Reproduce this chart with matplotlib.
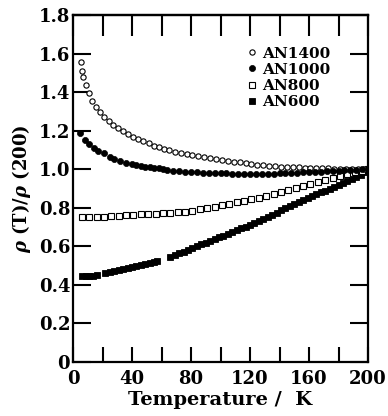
import matplotlib.pyplot as plt
from matplotlib.ticker import FixedLocator

# temperature (K) and normalised resistivity rho(T)/rho(200)
t_an1400 = [5.4, 6.3, 7.0, 8.6, 10.8, 12.9, 15.4, 18.3, 21.2, 24.2,
            27.3, 30.7, 34.1, 37.5, 40.9, 44.3, 47.7, 51.5, 55.1, 58.5,
            61.9, 65.3, 69.2, 73, 77, 81, 85, 89, 93, 97,
            101, 105, 109, 113, 117, 121, 125, 129, 133, 137,
            141, 145, 149, 153, 157, 161, 165, 169, 173, 177,
            181, 185, 189, 193, 197, 200]
r_an1400 = [1.554, 1.511, 1.477, 1.437, 1.394, 1.355, 1.324, 1.298, 1.272, 1.250,
            1.229, 1.212, 1.198, 1.183, 1.169, 1.157, 1.146, 1.134, 1.122, 1.114,
            1.105, 1.098, 1.091, 1.086, 1.080, 1.074, 1.069, 1.064, 1.059, 1.054,
            1.049, 1.044, 1.039, 1.035, 1.031, 1.027, 1.024, 1.021, 1.018, 1.016,
            1.014, 1.012, 1.010, 1.009, 1.008, 1.007, 1.006, 1.005, 1.004, 1.003,
            1.002, 1.002, 1.001, 1.001, 1.000, 1.000]

t_an1000 = [5, 8, 11, 14, 17, 21, 25, 28, 32, 36,
            40, 43, 46, 49, 52, 55, 58, 61, 64, 68,
            72, 76, 80, 84, 88, 92, 96, 100, 104, 108,
            112, 116, 120, 124, 128, 132, 136, 140, 144, 148,
            152, 156, 160, 164, 168, 172, 176, 180, 184, 188,
            192, 196, 200]
r_an1000 = [1.190, 1.151, 1.129, 1.108, 1.094, 1.082, 1.065, 1.053, 1.044, 1.034,
            1.027, 1.022, 1.018, 1.014, 1.011, 1.007, 1.004, 1.000, 0.996, 0.991,
            0.989, 0.987, 0.985, 0.984, 0.982, 0.981, 0.980, 0.979, 0.978, 0.977,
            0.976, 0.976, 0.975, 0.975, 0.976, 0.976, 0.977, 0.978, 0.979, 0.980,
            0.982, 0.983, 0.985, 0.986, 0.988, 0.989, 0.991, 0.993, 0.994, 0.996,
            0.997, 0.999, 1.000]

t_an800 = [6, 11, 16, 21, 26, 31, 36, 41, 46, 51,
           56, 61, 66, 71, 76, 81, 86, 91, 96, 101,
           106, 111, 116, 121, 126, 131, 136, 141, 146, 151,
           156, 161, 166, 171, 176, 181, 186, 191, 196, 200]
r_an800 = [0.750, 0.750, 0.751, 0.752, 0.758, 0.759, 0.760, 0.764, 0.766, 0.768,
           0.770, 0.772, 0.774, 0.776, 0.780, 0.785, 0.792, 0.798, 0.805, 0.812,
           0.820, 0.828, 0.835, 0.843, 0.851, 0.860, 0.870, 0.881, 0.891, 0.902,
           0.913, 0.924, 0.934, 0.943, 0.955, 0.966, 0.975, 0.984, 0.993, 1.000]

t_an600 = [6, 8.5, 11, 13.5, 16, 22, 25, 28, 31, 34,
           37, 40, 43, 46, 49, 52, 55, 57, 66, 69,
           72, 75, 78, 81, 84, 87, 90, 93, 96, 99,
           102, 105, 108, 111, 114, 117, 120, 123, 126, 129,
           132, 135, 138, 141, 144, 147, 150, 153, 156, 159,
           162, 165, 168, 171, 174, 177, 180, 183, 186, 189,
           192, 195, 198, 200]
r_an600 = [0.445, 0.446, 0.447, 0.448, 0.449, 0.462, 0.467, 0.471, 0.476, 0.481,
           0.487, 0.492, 0.498, 0.503, 0.509, 0.514, 0.520, 0.524, 0.546, 0.555,
           0.563, 0.572, 0.582, 0.591, 0.601, 0.610, 0.619, 0.628, 0.637, 0.646,
           0.655, 0.665, 0.674, 0.683, 0.693, 0.702, 0.712, 0.722, 0.731, 0.741,
           0.750, 0.762, 0.774, 0.786, 0.797, 0.807, 0.818, 0.829, 0.840, 0.850,
           0.860, 0.870, 0.880, 0.889, 0.899, 0.908, 0.918, 0.928, 0.938, 0.948,
           0.959, 0.972, 0.986, 0.995]

x_ticks = [0, 20, 40, 60, 80, 100, 120, 140, 160, 180, 200]
x_labels = ['0', '', '40', '', '80', '', '120', '', '160', '', '200']
y_ticks = [0, 0.2, 0.4, 0.6, 0.8, 1.0, 1.2, 1.4, 1.6, 1.8]
y_labels = ['0', '0.2', '0.4', '0.6', '0.8', '1.0', '1.2', '1.4', '1.6', '1.8']

plt.rcParams['font.family'] = 'DejaVu Serif'
plt.rcParams['font.weight'] = 'bold'
plt.rcParams['mathtext.fontset'] = 'dejavuserif'

fig = plt.figure(figsize=(3.88, 4.16), dpi=100)
ax = fig.add_axes([73 / 388, 54 / 416, 295 / 388, 347 / 416])

ax.plot(t_an600, r_an600, 's', ms=5, mfc='black', mec='black', mew=0.6, label='AN600')
ax.plot(t_an800, r_an800, 's', ms=5, mfc='white', mec='black', mew=0.8, label='AN800')
ax.plot(t_an1400, r_an1400, 'o', ms=3.8, mfc='white', mec='black', mew=0.8, label='AN1400')
ax.plot(t_an1000, r_an1000, 'o', ms=4.4, mfc='black', mec='black', mew=0.5, label='AN1000')

ax.set_xlim(0, 200)
ax.set_ylim(0, 1.8)
ax.set_xticks(x_ticks)
ax.set_xticklabels(x_labels)
ax.set_yticks(y_ticks)
ax.set_yticklabels(y_labels)
for s in ax.spines.values():
  s.set_linewidth(1.6)
ax.tick_params(axis='x', direction='in', length=11, width=1.5, labelsize=13, pad=6)
ax.tick_params(axis='y', direction='in', length=13, width=1.5, labelsize=13, pad=2,
               right=True)

top = ax.secondary_xaxis('top')
top.xaxis.set_major_locator(FixedLocator(x_ticks))
top.tick_params(direction='in', length=15, width=1.5, labeltop=False)
top.spines['top'].set_linewidth(1.6)

ax.set_xlabel('Temperature /  K', fontsize=14, fontweight='bold', labelpad=2)
ax.set_ylabel(r'$\rho$ (T)/$\rho$ (200)', fontsize=13, fontweight='bold', labelpad=4)

h, l = ax.get_legend_handles_labels()
order = [2, 3, 1, 0]
ax.legend([h[i] for i in order], [l[i] for i in order], loc='upper right',
          bbox_to_anchor=(0.91, 0.94), frameon=False, fontsize=11,
          handlelength=0.6, handletextpad=0.4, labelspacing=0.15, borderpad=0.2)

fig.savefig('out.png', dpi=100)
